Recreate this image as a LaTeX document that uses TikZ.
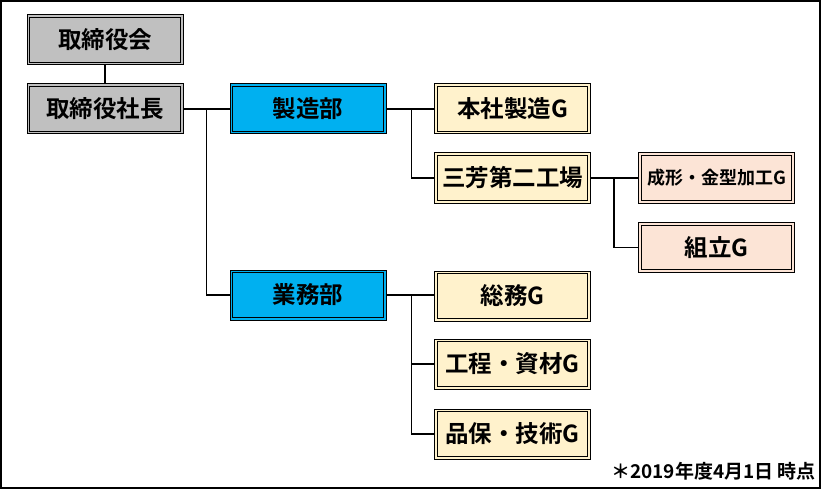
\documentclass[tikz,border=0pt]{standalone}
\usepackage{fontspec}
\usepackage{xcolor}
\usepackage{tikz}
\usetikzlibrary{positioning, calc}

\newfontfamily\jpfont{Noto Sans CJK JP}[BoldFont={Noto Sans CJK JP Bold}]

\definecolor{boardgray}{HTML}{C0C0C0}
\definecolor{deptblue}{HTML}{00B0F0}
\definecolor{groupyellow}{HTML}{FFF2CC}
\definecolor{unitpeach}{HTML}{FCE4D6}

\begin{document}
\begin{tikzpicture}[
    x=1pt, y=-1pt,
    orgbox/.style={draw=black, line width=1pt,
        minimum width=156pt, minimum height=50pt, inner sep=0pt,
        font=\jpfont\bfseries\fontsize{23.5}{27}\selectfont,
        path picture={\draw[line width=1pt]
            ([shift={(2.6pt,2.6pt)}]path picture bounding box.south west) rectangle
            ([shift={(-2.6pt,-2.6pt)}]path picture bounding box.north east);}},
    top box/.style={orgbox, fill=boardgray},
    dept box/.style={orgbox, fill=deptblue},
    group box/.style={orgbox, fill=groupyellow},
    unit box/.style={orgbox, fill=unitpeach},
    conn/.style={line width=1.6pt}
]

\useasboundingbox (0,0) rectangle (821,489);
\draw[line width=1.4pt] (1,1) rectangle (820,488);

% --- 1. Management ---
\node[top box] (board) at (105,40) {取締役会};
\node[top box] (president) at (105,109) {取締役社長};

% --- 2. Departments ---
\node[dept box] (mfg) at (308,109) {製造部};
\node[dept box] (admin) at (308,295) {業務部};

% --- 3. Groups ---
\node[group box] (honsha) at (512.5,109) {本社製造G};
\node[group box] (miyoshi) at (512.5,178) {三芳第二工場};
\node[unit box, font=\jpfont\bfseries\fontsize{18}{21}\selectfont] (molding) at (716.5,178) {成形・金型加工G};
\node[unit box] (assembly) at (716.5,247.5) {組立G};

\node[group box] (general) at (512.5,296) {総務G};
\node[group box] (process) at (512.5,364) {工程・資材G};
\node[group box] (quality) at (512.5,434) {品保・技術G};

% --- 4. Note ---
\node[anchor=east, inner sep=0pt, font=\jpfont\bfseries\fontsize{19}{22}\selectfont] (note) at (816,471) {＊2019年度4月1日 時点};

% --- 5. Connectors ---
\draw[conn] (board) -- (president);
\draw[conn] (president) -- (mfg);
\draw[conn] (president.east) -- ++(23,0) |- (admin.west);

\draw[conn] (mfg) -- (honsha);
\draw[conn] (mfg.east) -- ++(25,0) |- (miyoshi.west);

\draw[conn] (miyoshi) -- (molding);
\draw[conn] (miyoshi.east) -- ++(23,0) |- (assembly.west);

\draw[conn] (admin.east) -- (general.west |- admin.east);
\foreach \grp in {process, quality}{
    \draw[conn] (admin.east) -- ++(25,0) |- (\grp.west);
}

\end{tikzpicture}
\end{document}
